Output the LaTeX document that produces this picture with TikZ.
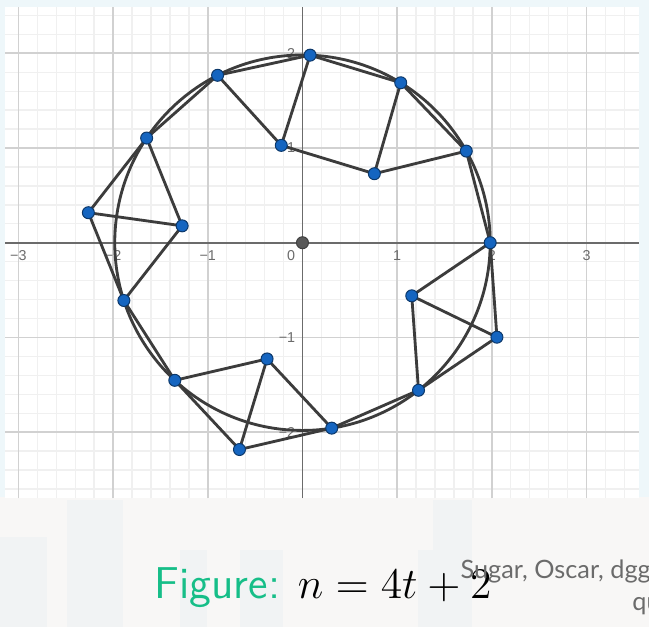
\RequirePackage{fix-cm}
\documentclass[tikz,border=0pt]{standalone}
\usepackage{amsmath, amssymb}
\usepackage{fontspec}
\newfontfamily\lato{Lato}
\newfontfamily\axisfont{Liberation Sans}
\usepackage{tikz}
\usetikzlibrary{arrows.meta, positioning}

\definecolor{figgreen}{RGB}{22,190,136}
\definecolor{dotblue}{RGB}{21,101,192}
\definecolor{edgegray}{RGB}{60,60,60}
\definecolor{slidetop}{RGB}{238,247,250}
\definecolor{slidebottom}{RGB}{248,247,246}
\definecolor{buildinggray}{RGB}{236,240,243}

\begin{document}
\begin{tikzpicture}[
  edge/.style={draw=edgegray, line width=0.85pt},
  vertex/.style={circle, fill=dotblue, draw=dotblue!55!black, line width=0.3pt, inner sep=0pt, minimum size=3.6pt},
  ticklabel/.style={font=\axisfont\fontsize{4.3}{5}\selectfont, text=black!58, inner sep=0pt},
  building/.style={fill=buildinggray, draw=none, opacity=0.55},
  reftext/.style={anchor=base west, inner sep=0pt, text=black!58, font=\lato\fontsize{7.6}{9}\selectfont}
]
\def\R{1.9822}   % radius of the circle
\def\a{29.222}   % unit chord angle
\def\b{51.813}   % sqrt(3) chord angle
\clip (-3.194,-4.058) rectangle (3.659,2.563);
% slide background
\fill[slidetop] (-3.194,-4.058) rectangle (3.659,2.563);
\fill[slidebottom] (-3.194,-4.058) rectangle (3.659,-2.69);
\fill[building] (-2.487,-4.058) rectangle (-1.895,-2.717);
\fill[building] (-3.194,-4.058) rectangle (-2.698,-3.108);
\fill[building] (-1.293,-4.058) rectangle (-1.008,-3.245);
\fill[building] (-0.660,-4.058) rectangle (-0.206,-3.245);
\fill[building] (1.378,-4.058) rectangle (1.790,-2.717);
\fill[building] (1.22,-4.058) rectangle (1.378,-3.245);
% plot area
\fill[white] (-3.141,-2.696) rectangle (3.553,2.489);
\draw[black!6, line width=0.4pt, step=0.2] (-3.141,-2.696) grid (3.553,2.489);
\draw[black!18, line width=0.5pt, step=1] (-3.141,-2.696) grid (3.553,2.489);
\draw[black!58, line width=0.5pt] (-3.141,0) -- (3.553,0);
\draw[black!58, line width=0.5pt] (0,-2.696) -- (0,2.489);
\foreach \k in {-3,-2,-1,1,2,3}
  \node[ticklabel] (xt\k) at (\k,-0.14) {\ifnum\k<0 −\the\numexpr-\k\relax\else\k\fi};
\node[ticklabel] (xt0) at (-0.12,-0.14) {0};
\foreach \k in {-2,-1,1,2}
  \node[ticklabel, anchor=east] (yt\k) at (-0.07,\k) {\ifnum\k<0 −\the\numexpr-\k\relax\else\k\fi};

% points on the circle
\foreach \i in {0,...,5}
  \coordinate (c\i) at ({\i*\a}:\R);
\coordinate (c6) at ({5*\a+\b}:\R);
\coordinate (c7) at ({6*\a+\b}:\R);
\coordinate (c8) at ({6*\a+2*\b}:\R);
\coordinate (c9) at ({7*\a+2*\b}:\R);
% inner and outer points
\coordinate (u1) at ({3.5*\a}:1.05207);
\coordinate (u2) at ({1.5*\a}:1.05207);
\coordinate (i1) at ({5*\a+0.5*\b}:1.28299);
\coordinate (o1) at ({5*\a+0.5*\b}:2.28299);
\coordinate (i2) at ({6*\a+1.5*\b}:1.28299);
\coordinate (o2) at ({6*\a+1.5*\b}:2.28299);
\coordinate (i3) at ({7*\a+2.5*\b}:1.28299);
\coordinate (o3) at ({7*\a+2.5*\b}:2.28299);

\draw[edge] (0,0) circle (\R);
\draw[edge] (c0) -- (c1) -- (c2) -- (c3) -- (c4) -- (c5);
\draw[edge] (c6) -- (c7);
\draw[edge] (c8) -- (c9);
\draw[edge] (c4) -- (u1) -- (c3);
\draw[edge] (u1) -- (u2) -- (c2);
\draw[edge] (c1) -- (u2);
\draw[edge] (c5) -- (o1) -- (c6) -- (i1) -- (c5);
\draw[edge] (o1) -- (i1);
\draw[edge] (c7) -- (o2) -- (c8) -- (i2) -- (c7);
\draw[edge] (o2) -- (i2);
\draw[edge] (c9) -- (o3) -- (c0) -- (i3) -- (c9);
\draw[edge] (o3) -- (i3);

\node[vertex, fill=black!65, draw=black!75] (O) at (0,0) {};
\foreach \p in {c0,c1,c2,c3,c4,c5,c6,c7,c8,c9,u1,u2,i1,o1,i2,o2,i3,o3}
  \node[vertex] (v\p) at (\p) {};

% caption
\node[anchor=base west, inner sep=0pt, text=figgreen, font=\sffamily\fontsize{13.4}{16}\selectfont] (capname) at (-1.568,-3.755) {Figure:};
\node[anchor=base west, inner sep=0pt, font=\fontsize{13.1}{16}\selectfont] (capmath) at (-0.055,-3.755) {$n=4t+2$};
\node[reftext] (ref1) at (1.663,-3.544) {Sugar, Oscar, dgg};
\node[reftext] (ref2) at (3.476,-3.886) {qu};
\end{tikzpicture}
\end{document}
